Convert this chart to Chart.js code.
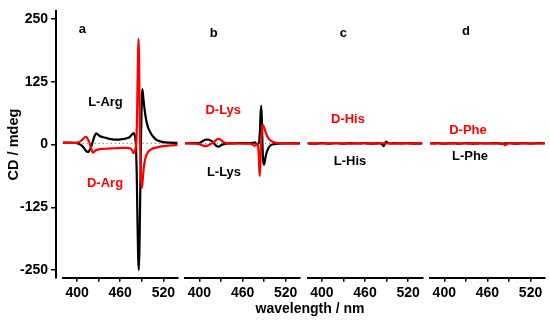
<!DOCTYPE html>
<html>
<head>
<meta charset="utf-8">
<script src="https://cdn.jsdelivr.net/npm/chart.js@4/dist/chart.umd.min.js"></script>
<style>
html,body{margin:0;padding:0;width:550px;height:322px;overflow:hidden;background:#fff;position:relative;}
canvas{position:absolute;top:0;}
</style>
</head>
<body>
<script>
// ---------------- DATA ----------------
const yTicks = [-250, -125, 0, 125, 250];
const xTicks = [400, 430, 460, 490, 520];
const xTickLabels = ['400', '', '460', '', '520'];
const panelLetters = ['a', 'b', 'c', 'd'];
const letterX = [407.5, 419.8, 429.8, 430.2];
const letterY = [224.6, 216.7, 216, 221.2];

// series names, label positions (wavelength, CD)
const blackNames = ['L-Arg', 'L-Lys', 'L-His', 'L-Phe'];
const redNames = ['D-Arg', 'D-Lys', 'D-His', 'D-Phe'];
const blackNameX = [439.5, 434.1, 439.1, 435.8];
const blackNameY = [81.6, -56.5, -35.8, -26.3];
const redNameX = [438.9, 433.1, 436.3, 433.0];
const redNameY = [-78.2, 65.8, 47, 26.3];

// zero reference line
const zeroX = [380, 540];
const zeroY = [0, 0];

// panel a: Arg
const aBlackX = [380,388,396,400,404,407,410,412,414,415,416,418,420,421.5,423,424.5,426.5,428.5,431,435,440,446,452,458,464,469,473,476,478,479.2,480.3,481.2,482,483,484,485,486,487,488,489,489.8,490.6,491.5,492.5,494,496,498,500,503,506,510,515,520,528,540];
const aBlackY = [1.5,1.5,1.2,0.5,-2,-5,-10,-14,-16.5,-17,-16.5,-12,-5,2,9,15,19.5,18,15,12.5,11,8.5,7.5,7.5,8.5,10,12.5,17,19.5,20,15,8,-5,-60,-150,-225,-250,-190,-85,15,70,107,100,85,66,47,35,27,19,13,7.5,4,2.5,1.5,1];
const aRedX = [380,388,396,400,404,407,410,412,414,416,417.5,419,420.5,422,423.5,426,430,436,442,448,455,462,468,472,475,477,478.5,480,481.3,482.3,483.3,484.3,485,485.6,486.3,487.2,488.2,489.2,490.1,491,492,493.2,494.5,496.5,499,503,508,514,520,530,540];
const aRedY = [1,1,0.8,1.5,3.5,7,11,13,11,5,0,-7,-14,-18.5,-17,-13.5,-12,-11,-10.5,-10,-9.5,-9,-9,-9.5,-11,-15,-19,-17,-10,-2,45,130,185,206,170,40,-30,-75,-88,-78,-60,-44,-33,-23,-16.5,-12,-9,-7,-5.5,-4,-3];

// panel b: Lys
const bBlackX = [380,390,398,402,406,409,411,413,416,418,420,422,424,426,428,431,434,437,442,450,460,468,473,475.5,477.5,479.5,481.5,483,484.2,485.1,486,486.9,487.8,488.8,489.7,490.6,491.6,493,495,497.5,500,504,510,520,530,540];
const bBlackY = [0,0.5,0.5,2.5,5.5,7.5,7.5,7,5,3,0,-3,-5.5,-6.5,-5.5,-3,-1.5,-0.5,0,0,0.5,0.5,0.5,1.5,2,-2.5,-1,3,28,60,74,40,-10,-36,-42,-38,-30,-20,-12,-6,-3,-1.5,-0.5,0,0,0];
const bRedX = [380,390,398,402,405,408,410,412,414,417,419.5,422,424.5,427,429.5,432,435,438,443,450,460,468,472,474.5,476.5,478.5,480.5,481.8,482.8,483.7,484.6,485.5,486.4,487.3,488.2,489.2,490.5,492,494,496,498.5,501,505,510,520,530,540];
const bRedY = [0,-0.5,-1,-2.5,-4.5,-5.5,-5,-4,-2.5,-0.5,2,5,8,9,7,4,1.5,0.5,0,0,-0.5,-0.5,-1,-3,-5,-3.5,-1,-8,-35,-64,-45,-10,18,32,36,34,29,22,15,10,6,3.5,1.5,0.5,0,0,0];

// panel c: His
const cBlackX = [380,390,400,410,420,430,440,450,460,470,478,482,484.5,486,487.5,489.5,491.5,494,500,510,520,530,540];
const cBlackY = [0,-0.5,0.3,-0.4,0.2,-0.6,0.4,-0.3,0.5,-0.4,0.3,-0.5,-3,-5.5,-1,3.5,1,-0.3,0.4,-0.2,0.3,-0.4,0];
const cRedX = [380,386,392,398,404,410,416,422,428,434,440,446,452,458,464,470,476,482,488,494,500,506,512,518,524,530,536,540];
const cRedY = [0.4,-0.6,0.7,-0.3,0.5,-0.7,0.3,0.6,-0.5,0.4,-0.6,0.5,-0.2,0.7,-0.5,0.3,-0.4,0.6,-0.3,0.5,-0.6,0.4,-0.3,0.6,-0.5,0.3,-0.4,0.2];

// panel d: Phe
const dBlackX = [380,390,400,410,420,430,440,450,460,470,480,490,500,510,520,530,540];
const dBlackY = [-0.3,0.4,-0.5,0.2,-0.4,0.3,-0.6,0.2,-0.3,0.5,-0.4,0.3,-0.5,0.2,-0.3,0.4,-0.2];
const dRedX = [380,386,392,398,404,410,416,422,428,434,440,446,452,458,464,470,476,480,483,485,487,490,496,502,508,514,520,526,532,540];
const dRedY = [0.5,-0.4,0.6,-0.5,0.3,-0.6,0.5,-0.3,0.6,-0.4,0.5,-0.6,0.4,-0.3,0.6,-0.5,0.3,-0.4,-1.5,-3.8,-1.2,0.4,-0.5,0.6,-0.3,0.5,-0.6,0.4,-0.3,0.5];

const blackSeries = [[aBlackX, aBlackY], [bBlackX, bBlackY], [cBlackX, cBlackY], [dBlackX, dBlackY]];
const redSeries = [[aRedX, aRedY], [bRedX, bRedY], [cRedX, cRedY], [dRedX, dRedY]];

// ---------------- LAYOUT ----------------
const W = 550, H = 322;
const PANEL_LEFT = [62.7, 185.1, 307.5, 429.9];
const PANEL_W = 115;
const AREA_TOP = 9;
const AREA_BOTTOM = 277.7;
const Y_AXIS_X = 56;
const FONT = "'Liberation Sans', Arial, Helvetica, sans-serif";
const BLACK = '#000000';
const RED = '#ff0000';
const Y_MIN = -265, Y_MAX = 265;
const X_MIN = 380, X_MAX = 540;

const toPts = (xs, ys) => xs.map((x, i) => ({x: x, y: ys[i]}));

function addCanvas(left, width) {
  const c = document.createElement('canvas');
  c.width = width; c.height = H;
  c.style.left = left + 'px';
  c.style.width = width + 'px';
  c.style.height = H + 'px';
  document.body.appendChild(c);
  return c;
}

// Background chart: shared y axis + shared x title
(function () {
  const bgW = 564;
  const c = addCanvas(0, bgW);
  new Chart(c, {
    type: 'line',
    data: {datasets: []},
    options: {
      responsive: false, animation: false, devicePixelRatio: 1,
      layout: {padding: {left: 0, right: 0, top: AREA_TOP, bottom: 0}},
      plugins: {legend: {display: false}, tooltip: {enabled: false}},
      scales: {
        x: {
          type: 'linear', min: 0, max: 1, position: 'bottom',
          ticks: {display: false},
          grid: {display: false},
          border: {display: false},
          title: {display: true, text: 'wavelength / nm', color: BLACK,
                  font: {family: FONT, size: 14, weight: 'bold'}, padding: {top: 0, bottom: 4}},
          afterFit: s => { s.height = H - AREA_BOTTOM; }
        },
        y: {
          type: 'linear', min: Y_MIN, max: Y_MAX, position: 'left',
          afterBuildTicks: s => { s.ticks = yTicks.map(v => ({value: v})); },
          ticks: {color: BLACK, font: {family: FONT, size: 14, weight: 'bold'}, padding: 3,
                  callback: v => String(v)},
          grid: {display: true, drawOnChartArea: false, drawTicks: true, tickLength: 5,
                 color: BLACK, lineWidth: 1.5},
          border: {display: true, color: BLACK, width: 2},
          title: {display: true, text: 'CD / mdeg', color: BLACK,
                  font: {family: FONT, size: 14.5, weight: 'bold'}, padding: {top: 5, bottom: 0}},
          afterFit: s => { s.width = Y_AXIS_X; }
        }
      }
    }
  });
})();

function makePanel(i) {
  const pl = PANEL_LEFT[i];
  const cl = Math.floor(pl) - 12;
  const cw = Math.ceil(pl + PANEL_W) + 12 - cl;
  const c = addCanvas(cl, cw);
  const texts = [
    {t: panelLetters[i], x: letterX[i], y: letterY[i], color: BLACK, size: 13},
    {t: blackNames[i], x: blackNameX[i], y: blackNameY[i], color: BLACK, size: 13},
    {t: redNames[i], x: redNameX[i], y: redNameY[i], color: RED, size: 13}
  ];
  const textPlugin = {
    id: 'panelText' + i,
    afterDatasetsDraw(chart) {
      const {ctx, scales} = chart;
      ctx.save();
      texts.forEach(it => {
        ctx.font = 'bold ' + it.size + 'px ' + FONT;
        ctx.fillStyle = it.color;
        ctx.textAlign = 'center';
        ctx.textBaseline = 'middle';
        ctx.fillText(it.t, scales.x.getPixelForValue(it.x), scales.y.getPixelForValue(it.y));
      });
      ctx.restore();
    }
  };
  const common = {pointRadius: 0, borderWidth: 2.2, fill: false, cubicInterpolationMode: 'monotone'};
  new Chart(c, {
    type: 'line',
    data: {
      datasets: [
        Object.assign({label: redNames[i], data: toPts(redSeries[i][0], redSeries[i][1]), borderColor: RED}, common),
        Object.assign({label: blackNames[i], data: toPts(blackSeries[i][0], blackSeries[i][1]), borderColor: BLACK}, common),
        {label: 'zero', data: toPts(zeroX, zeroY), borderColor: '#555555', borderWidth: 1,
         borderDash: [1, 3], pointRadius: 0, fill: false}
      ]
    },
    options: {
      responsive: false, animation: false, devicePixelRatio: 1,
      layout: {padding: {left: pl - cl, right: cl + cw - (pl + PANEL_W), top: AREA_TOP, bottom: 0}},
      plugins: {legend: {display: false}, tooltip: {enabled: false}},
      scales: {
        x: {
          type: 'linear', min: X_MIN, max: X_MAX, position: 'bottom',
          afterBuildTicks: s => { s.ticks = xTicks.map(v => ({value: v})); },
          ticks: {autoSkip: false, maxRotation: 0, color: BLACK, padding: 3,
                  font: {family: FONT, size: 14, weight: 'bold'},
                  callback: (v) => { const k = xTicks.indexOf(v); return k >= 0 ? xTickLabels[k] : ''; }},
          grid: {display: true, drawOnChartArea: false, drawTicks: true, tickLength: 4,
                 color: BLACK, lineWidth: 1.5},
          border: {display: true, color: BLACK, width: 2},
          afterFit: s => { s.height = H - AREA_BOTTOM; }
        },
        y: {type: 'linear', min: Y_MIN, max: Y_MAX, display: false}
      }
    },
    plugins: [textPlugin]
  });
}

for (let i = 0; i < 4; i++) makePanel(i);
</script>
</body>
</html>
